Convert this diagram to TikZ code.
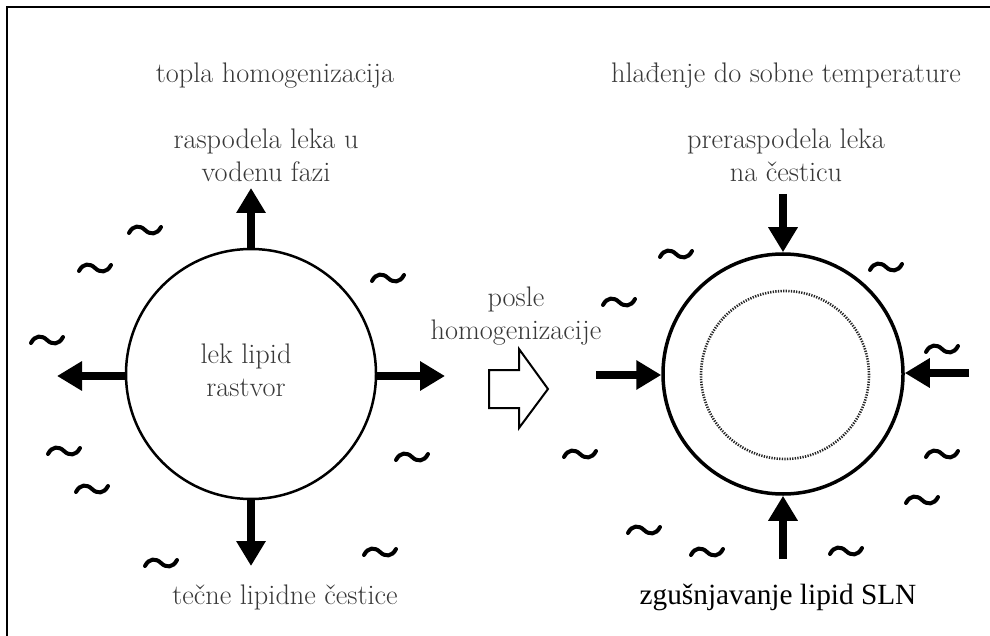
\documentclass[tikz,border=0pt]{standalone}
\usepackage{fontspec}
\newfontfamily\timesfont{Liberation Serif}
\usetikzlibrary{arrows.meta}
\begin{document}
\begin{tikzpicture}[x=1pt,y=-1pt,
  lbl/.style={text=black!78, font=\fontsize{28.3}{33}\selectfont, inner sep=0pt, align=center},
  fatarrow/.style={line width=8pt, -{Triangle[length=25pt,width=28pt]}},
  ball/.style={circle, draw, inner sep=0pt},
  tld/.pic={\draw[line width=4pt, line cap=round] (-16,3) .. controls (-12,-5) and (-5,-5) .. (0,0) .. controls (5,5) and (12,5) .. (16,-3);}
]
\useasboundingbox (0,0) rectangle (990,636);
% frame (only left and top edges visible)
\draw[line width=2.5pt] (7,636) -- (7,7) -- (990,7);

% left particle
\node[ball, minimum size=250pt, line width=2.5pt] (L) at (251,374) {};
\node[lbl] (Ltxt) at (246,370) {lek lipid\\rastvor};
\coordinate (Lup) at (251,188);
\coordinate (Lleft) at (57,376);
\coordinate (Lright) at (445,376);
\coordinate (Ldown) at (251,566);
\draw[fatarrow] (L.north) -- (Lup);
\draw[fatarrow] (L.west |- Lleft) -- (Lleft);
\draw[fatarrow] (L.east |- Lright) -- (Lright);
\draw[fatarrow] (L.south) -- (Ldown);

% right particle
\node[ball, minimum size=240pt, line width=3.5pt] (R) at (783,374) {};
\node[circle, draw, inner sep=0pt, minimum size=168pt, line width=2.6pt, dash pattern=on 1.3pt off 1.3pt, draw=black!85] (Rin) at (785,375) {};
\coordinate (Rup) at (783,194);
\coordinate (Rleft) at (596,375);
\coordinate (Rright) at (969,373);
\coordinate (Rdown) at (783,559);
\draw[fatarrow] (Rup) -- (R.north);
\draw[fatarrow] (Rleft) -- (R.west |- Rleft);
\draw[fatarrow] (Rright) -- (R.east |- Rright);
\draw[fatarrow] (Rdown) -- (R.south);

% hollow arrow
\draw[line width=2pt, line join=miter] (489,370) -- (519,370) -- (519,349) -- (548,389) -- (519,428) -- (519,408) -- (489,408) -- cycle;

% labels
\node[lbl, anchor=base] (t1) at (275,83) {topla homogenizacija};
\node[lbl, anchor=base] (t2) at (786,83) {hlađenje do sobne temperature};
\node[lbl] (t3) at (266,155) {raspodela leka u\\vodenu fazi};
\node[lbl] (t4) at (786,155) {preraspodela leka\\na česticu};
\node[lbl] (t5) at (516,316) {posle\\homogenizacije};
\node[lbl, anchor=base] (t6) at (285,604) {tečne lipidne čestice};
\node[anchor=base, inner sep=0pt, font=\timesfont\fontsize{29.3}{34}\selectfont] (t7) at (778,604) {zgušnjavanje lipid SLN};

% tildes
\foreach \p in {(145,230),(95,268),(388,278),(47,340),(64,451),(92,489),(412,457),(161,563),(380,552),
  (676,254),(619,302),(886,267),(942,349),(580,454),(942,454),(922,500),(644,530),(707,552),(846,551)}
  \pic at \p {tld};
\end{tikzpicture}
\end{document}
